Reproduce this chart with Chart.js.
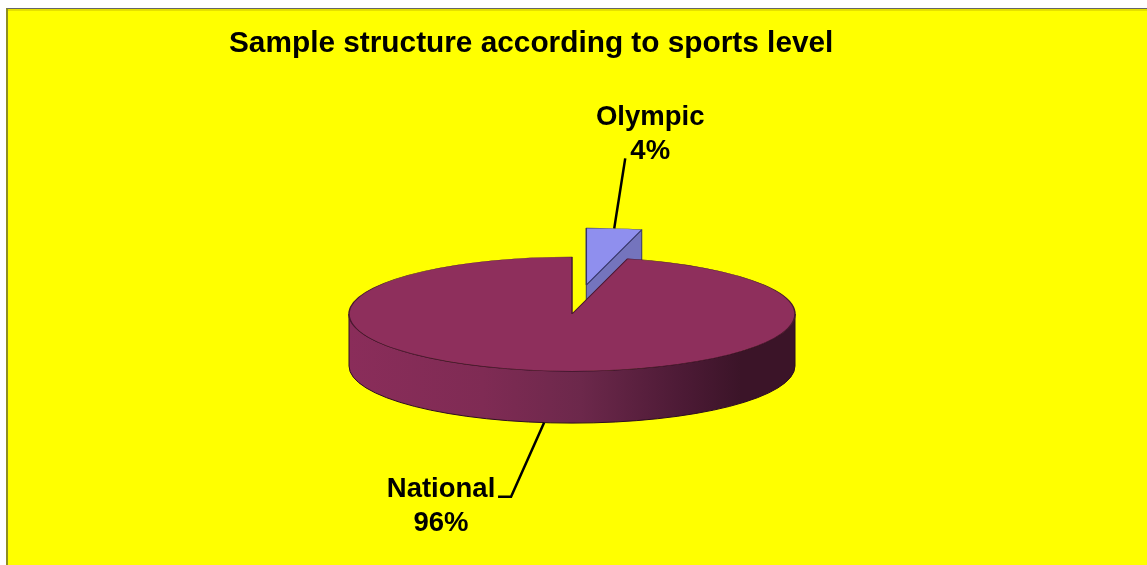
<!DOCTYPE html>
<html>
<head>
<meta charset="utf-8">
<title>Sample structure according to sports level</title>
<script src="https://cdn.jsdelivr.net/npm/chart.js@4/dist/chart.umd.min.js"></script>
<style>
  html, body { margin: 0; padding: 0; background: #ffffff; overflow: hidden; }
  #panel {
    position: absolute; left: 6px; top: 8px; right: 0; bottom: 0;
    background: #ffff00;
    border-top: 1px solid #666666;
    border-left: 2px solid #8f8f20;
    box-shadow: inset 0 2px 0 #e5e000;
  }
  #chart { position: absolute; left: 0; top: 0; }
</style>
</head>
<body>
<div id="panel"></div>
<canvas id="chart" width="1147" height="565"></canvas>
<script>
// Sample data =====================================================
const chartTitle = "Sample structure according to sports level";
const levels = ["Olympic", "National"];
const shares = [4, 96];

// Pie look ========================================================
const topColors = ["#8f8fee", "#8e2f5c"];
const edgeColors = ["#34346e", "#4a1830"];
const cutFaceColor = "#7474bd";
const labelFont = "bold 27.5px 'Liberation Sans', Arial, sans-serif";

const pieRadius = 223;
const pieCenterY = 314;
const squash = 0.256;
const depth = 52;
const slicePull = [114, 0];

// where the leader lines end, relative to the arc they start from
const leaderEnds = [
  [{ dx: 11, dy: -70 }],
  [{ dx: -33, dy: 74 }, { dx: -46, dy: 74 }]
];
const labelSpots = [
  { dx: 36, dy: -111 },
  { dx: -103, dy: 67 }
];

function midAngle(arc) {
  return (arc.startAngle + arc.endAngle) / 2;
}

// screen position of a point of one arc on the squashed pie
function arcPoint(chart, arc, angle, radius, drop) {
  const centerY = (chart.chartArea.top + chart.chartArea.bottom) / 2;
  return {
    x: arc.x + Math.cos(angle) * radius,
    y: pieCenterY + (arc.y - centerY + Math.sin(angle) * radius) * squash + drop
  };
}

// the round wall under the big slice and the cut face of the pulled out slice
function drawWalls(chart, arcs) {
  const ctx = chart.ctx;
  const main = arcs[1];
  const small = arcs[0];
  const rx = main.outerRadius;
  const ry = rx * squash;

  const shade = ctx.createLinearGradient(main.x - rx, 0, main.x + rx, 0);
  shade.addColorStop(0, "#8a2d5a");
  shade.addColorStop(0.3, "#7f2b54");
  shade.addColorStop(0.52, "#6c284b");
  shade.addColorStop(0.75, "#4c1a35");
  shade.addColorStop(0.88, "#3b1428");
  shade.addColorStop(1, "#3b1428");

  ctx.beginPath();
  ctx.ellipse(main.x, pieCenterY, rx, ry, 0, 0, Math.PI);
  ctx.lineTo(main.x - rx, pieCenterY + depth);
  ctx.ellipse(main.x, pieCenterY + depth, rx, ry, 0, Math.PI, 0, true);
  ctx.closePath();
  ctx.fillStyle = shade;
  ctx.fill();
  ctx.lineWidth = 1;
  ctx.strokeStyle = "#2c0e1e";
  ctx.stroke();

  const rim = arcPoint(chart, small, small.endAngle, small.outerRadius, 0);
  const tip = arcPoint(chart, small, 0, 0, 0);
  ctx.beginPath();
  ctx.moveTo(tip.x, tip.y);
  ctx.lineTo(rim.x, rim.y);
  ctx.lineTo(rim.x, rim.y + depth);
  ctx.lineTo(tip.x, tip.y + depth);
  ctx.closePath();
  ctx.fillStyle = cutFaceColor;
  ctx.fill();
  ctx.strokeStyle = edgeColors[0];
  ctx.stroke();
}

const tiltPlugin = {
  id: "tilt",
  // the offset option also grows the slice, so move the element itself
  afterDatasetsUpdate(chart) {
    chart.getDatasetMeta(0).data.forEach(function(arc, i) {
      arc.x += Math.cos(midAngle(arc)) * slicePull[i];
      arc.y += Math.sin(midAngle(arc)) * slicePull[i];
    });
  },
  beforeDatasetsDraw(chart) {
    const ctx = chart.ctx;
    drawWalls(chart, chart.getDatasetMeta(0).data);
    ctx.save();
    ctx.translate(0, pieCenterY);
    ctx.scale(1, squash);
    ctx.translate(0, -(chart.chartArea.top + chart.chartArea.bottom) / 2);
  },
  afterDatasetsDraw(chart) {
    chart.ctx.restore();
  }
};

// leader lines and the name + percent labels
const labelPlugin = {
  id: "pieLabels",
  afterDraw(chart) {
    const ctx = chart.ctx;
    const arcs = chart.getDatasetMeta(0).data;
    ctx.save();
    ctx.font = labelFont;
    ctx.textAlign = "center";
    ctx.textBaseline = "middle";
    ctx.strokeStyle = "#000000";
    ctx.fillStyle = "#000000";
    ctx.lineWidth = 2.5;
    arcs.forEach(function(arc, i) {
      // the lower label hangs from the bottom of the wall
      const from = arcPoint(chart, arc, midAngle(arc), arc.outerRadius, i === 1 ? depth : 0);
      ctx.beginPath();
      ctx.moveTo(from.x, from.y);
      leaderEnds[i].forEach(function(p) {
        ctx.lineTo(from.x + p.dx, from.y + p.dy);
      });
      ctx.stroke();
      ctx.fillText(levels[i], from.x + labelSpots[i].dx, from.y + labelSpots[i].dy);
      ctx.fillText(shares[i] + "%", from.x + labelSpots[i].dx, from.y + labelSpots[i].dy + 34);
    });
    ctx.restore();
  }
};

const config = {
  type: "pie",
  data: {
    labels: levels,
    datasets: [{
      data: shares,
      backgroundColor: topColors,
      borderColor: edgeColors,
      borderWidth: 1.5,
      clip: false
    }]
  },
  options: {
    responsive: false,
    animation: false,
    events: [],
    radius: pieRadius,
    layout: { padding: { left: 229, right: 232, top: 26 } },
    plugins: {
      legend: { display: false },
      tooltip: { enabled: false },
      title: {
        display: true,
        text: chartTitle,
        align: "start",
        color: "#000000",
        padding: 0,
        font: { family: "'Liberation Sans', Arial, sans-serif", size: 29.8, weight: "bold" }
      }
    }
  },
  plugins: [tiltPlugin, labelPlugin]
};

const context = document.getElementById("chart");
const chart = new Chart(context, config);
</script>
</body>
</html>
